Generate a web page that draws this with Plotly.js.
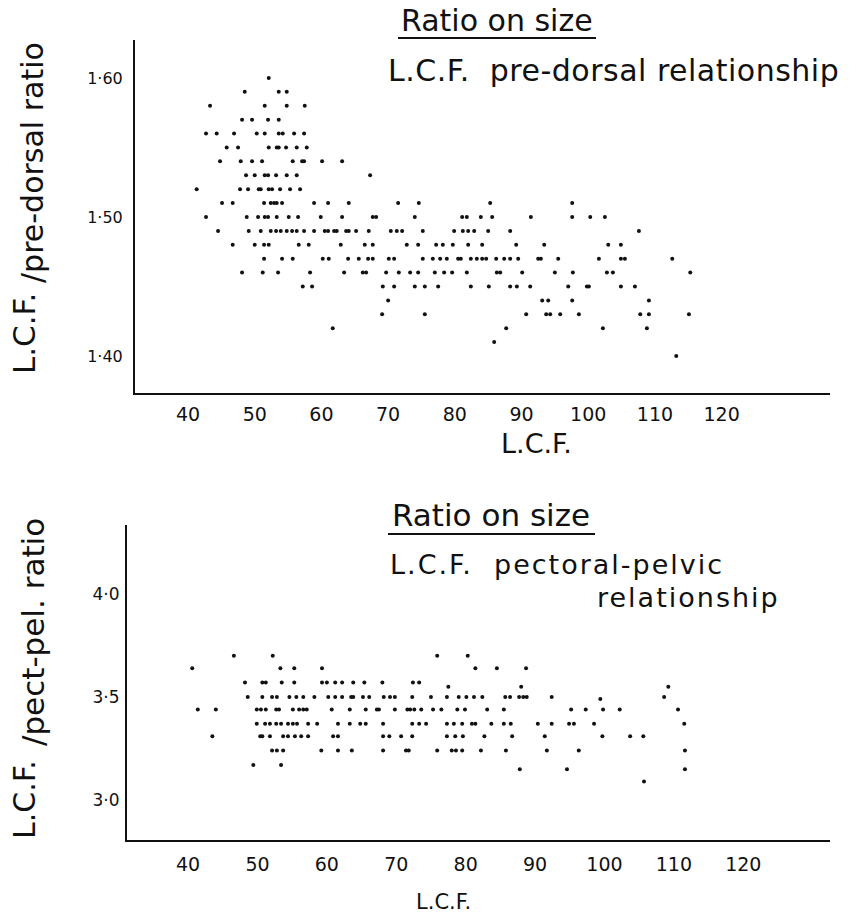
<!DOCTYPE html>
<html>
<head>
<meta charset="utf-8">
<script src="https://cdn.plot.ly/plotly-3.0.1.min.js"></script>
<style>
  html, body { margin: 0; padding: 0; background: #fff; }
  #chart { width: 864px; height: 917px; }
</style>
</head>
<body>
<div id="chart"></div>
<script>
// L.C.F. / pre-dorsal ratio, grouped by ratio level (one list of L.C.F. values per level)
const dorsalLevels = [1.60, 1.59, 1.58, 1.57, 1.56, 1.55, 1.54, 1.53, 1.52, 1.51, 1.50,
                      1.49, 1.48, 1.47, 1.46, 1.45, 1.44, 1.43, 1.42, 1.41, 1.40];
const dorsalLcf = [
  [52.1],
  [48.5, 53.6, 54.8],
  [43.3, 51.5, 54.8, 57.5],
  [48.1, 49.6, 52.0, 53.6],
  [42.7, 44.3, 46.9, 50.3, 51.5, 53.6, 54.2, 55.9, 57.4],
  [45.8, 47.5, 52.1, 53.3, 53.6, 54.7, 56.3, 57.8],
  [44.8, 47.9, 49.6, 51.1, 55.7, 57.1, 57.4, 60.1, 63.1],
  [48.7, 50.0, 51.5, 52.0, 53.2, 54.8, 56.3, 67.3],
  [41.3, 47.8, 49.0, 50.6, 50.9, 52.1, 52.6, 53.8, 55.3, 56.8],
  [45.1, 46.7, 51.4, 52.4, 52.9, 53.3, 54.1, 58.9, 61.0, 64.1, 71.5, 74.6, 85.3, 97.6],
  [42.7, 48.8, 50.5, 51.5, 52.0, 53.3, 55.1, 56.5, 59.9, 63.1, 67.7, 68.2, 74.0, 81.1,
   81.8, 83.9, 85.6, 91.4, 97.6, 100.3, 102.5],
  [44.5, 49.1, 50.9, 52.4, 53.2, 53.9, 54.8, 55.6, 56.3, 57.4, 58.9, 60.5, 61.0, 61.9,
   62.3, 63.7, 64.1, 65.2, 67.1, 70.4, 71.3, 72.1, 75.2, 79.9, 81.2, 82.0, 82.9, 85.0,
   88.3, 107.6],
  [46.7, 50.0, 51.4, 52.1, 56.6, 58.1, 62.9, 66.5, 67.7, 72.8, 74.5, 77.2, 78.2, 79.7,
   82.0, 84.1, 89.2, 93.4, 103.0, 104.9],
  [51.4, 54.1, 55.7, 60.2, 61.1, 64.0, 65.6, 67.0, 67.7, 70.1, 70.9, 75.2, 76.7, 77.8,
   78.8, 80.5, 80.9, 82.4, 83.3, 84.1, 84.7, 86.2, 87.4, 88.3, 89.5, 92.5, 92.9, 95.5,
   101.6, 104.9, 105.5, 112.6],
  [48.1, 51.2, 53.5, 58.3, 63.4, 66.2, 66.7, 69.7, 71.6, 73.3, 74.5, 77.0, 78.4, 79.6,
   81.8, 86.3, 86.8, 90.1, 95.0, 97.7, 102.8, 103.7, 115.3],
  [57.2, 58.6, 69.2, 70.9, 74.0, 75.5, 77.5, 82.4, 85.1, 88.3, 89.3, 91.3, 97.0, 99.8,
   100.1, 104.9, 107.0],
  [70.0, 93.1, 94.0, 97.6, 109.1],
  [69.1, 75.5, 90.7, 93.7, 94.3, 95.8, 98.6, 107.8, 109.1, 115.1],
  [61.7, 87.7, 102.2, 108.8],
  [85.9],
  [113.2]
];

// L.C.F. / pectoral-pelvic ratio, grouped the same way
const pelvicLevels = [3.70, 3.64, 3.57, 3.55, 3.50, 3.49, 3.44, 3.37, 3.31, 3.24, 3.17, 3.15, 3.09];
const pelvicLcf = [
  [46.6, 52.2, 75.9, 80.3],
  [40.6, 53.3, 55.3, 59.3, 81.4, 84.5, 88.7],
  [48.2, 50.7, 51.2, 53.5, 55.3, 59.3, 60.0, 61.2, 62.2, 63.8, 65.4, 68.0, 72.4, 73.3],
  [77.5, 88.0, 109.2],
  [48.6, 50.7, 52.1, 52.8, 54.6, 55.6, 56.6, 58.2, 60.2, 61.2, 62.2, 63.5, 63.8, 65.2,
   66.1, 68.2, 69.1, 69.8, 72.3, 75.0, 77.3, 79.0, 80.1, 81.2, 82.4, 85.7, 86.4, 87.7,
   88.3, 88.8, 92.4, 108.6],
  [99.4],
  [41.4, 44.0, 49.9, 50.5, 51.2, 52.7, 53.1, 55.1, 56.0, 56.6, 57.1, 60.7, 63.3, 65.6,
   67.2, 67.5, 69.8, 71.6, 72.0, 72.6, 73.6, 75.3, 76.5, 78.8, 79.9, 83.1, 85.5, 95.2,
   97.3, 99.8, 102.2, 110.6],
  [49.9, 51.1, 51.8, 52.7, 53.4, 54.4, 55.1, 55.7, 57.3, 58.6, 61.6, 63.3, 64.8, 65.6,
   68.1, 72.3, 73.3, 74.3, 77.3, 78.3, 79.5, 80.9, 81.4, 83.7, 85.5, 86.5, 90.4, 92.4,
   94.9, 95.6, 98.5, 111.5],
  [43.5, 50.4, 50.7, 51.8, 53.7, 54.4, 55.4, 56.3, 57.3, 60.9, 61.6, 68.1, 69.0, 70.7,
   72.3, 77.3, 78.5, 79.6, 82.7, 86.7, 91.4, 99.7, 103.7, 105.6],
  [52.1, 52.8, 53.7, 59.2, 61.6, 63.6, 68.1, 71.4, 71.8, 75.9, 78.0, 78.6, 79.5, 82.2,
   85.8, 91.7, 96.3, 111.6],
  [49.4, 53.4],
  [87.8, 94.6, 111.6],
  [105.7]
];

// Axis ticks
const lcfTicks = [40, 50, 60, 70, 80, 90, 100, 110, 120];
const dorsalTicks = [1.40, 1.50, 1.60];
const dorsalTickText = ['1·40', '1·50', '1·60'];
const pelvicTicks = [3.0, 3.5, 4.0];
const pelvicTickText = ['3·0', '3·5', '4·0'];

function flatten(levels, groups) {
  const x = [], y = [];
  groups.forEach((g, i) => g.forEach(v => { x.push(v); y.push(levels[i]); }));
  return { x, y };
}

const dorsal = flatten(dorsalLevels, dorsalLcf);
const pelvic = flatten(pelvicLevels, pelvicLcf);

const W = 864, H = 917;
const px = v => v / W;          // pixel -> paper x
const py = v => 1 - v / H;      // pixel -> paper y

const FONT = 'DejaVu Sans, sans-serif';
const INK = '#111';
const dot = { color: INK, size: 4, symbol: 'circle' };

const traces = [
  { x: dorsal.x, y: dorsal.y, type: 'scatter', mode: 'markers', marker: dot,
    xaxis: 'x', yaxis: 'y', hoverinfo: 'x+y' },
  { x: pelvic.x, y: pelvic.y, type: 'scatter', mode: 'markers', marker: dot,
    xaxis: 'x2', yaxis: 'y2', hoverinfo: 'x+y' }
];

const baseAxis = {
  showline: true, linecolor: INK, linewidth: 2,
  showgrid: false, zeroline: false, mirror: false,
  ticks: 'outside', tickcolor: 'rgba(0,0,0,0)',
  tickfont: { family: FONT, size: 19, color: INK }
};

// widen lettering the way the hand-lettered captions are spaced
const spaced = (t, sp) => `<span style="letter-spacing:${sp}px">${t}</span>`;

function note(text, x, y, size, opts) {
  return Object.assign({
    text, x: px(x), y: py(y), xref: 'paper', yref: 'paper',
    xanchor: 'center', yanchor: 'middle', showarrow: false,
    font: { family: FONT, size, color: INK }
  }, opts || {});
}

const layout = {
  width: W, height: H,
  margin: { l: 0, r: 0, t: 0, b: 0 },
  paper_bgcolor: '#fff', plot_bgcolor: '#fff',
  showlegend: false,
  xaxis: Object.assign({}, baseAxis, {
    domain: [px(135), px(830)], range: [32.05, 136.25],
    tickvals: lcfTicks, ticklen: 3, anchor: 'y'
  }),
  yaxis: Object.assign({}, baseAxis, {
    domain: [py(393), py(40)], range: [1.3734, 1.6273],
    tickvals: dorsalTicks, ticktext: dorsalTickText, ticklen: 7, anchor: 'x',
    tickfont: { family: FONT, size: 16, color: INK }
  }),
  xaxis2: Object.assign({}, baseAxis, {
    domain: [px(127), px(830)], range: [31.2, 132.5],
    tickvals: lcfTicks, ticklen: 6, anchor: 'y2'
  }),
  yaxis2: Object.assign({}, baseAxis, {
    domain: [py(840), py(525)], range: [2.806, 4.335],
    tickvals: pelvicTicks, ticktext: pelvicTickText, ticklen: 2, anchor: 'x2',
    tickfont: { family: FONT, size: 17, color: INK }
  }),
  shapes: [
    { type: 'line', xref: 'paper', yref: 'paper', x0: px(398), x1: px(596), y0: py(38), y1: py(38),
      line: { color: INK, width: 2 } },
    { type: 'line', xref: 'paper', yref: 'paper', x0: px(388), x1: px(595), y0: py(534), y1: py(534),
      line: { color: INK, width: 2 } }
  ],
  annotations: [
    note('Ratio on size', 497, 20, 30),
    note(spaced('L.C.F.  pre-dorsal relationship', 0.5), 386, 70, 30, { xanchor: 'left' }),
    note('L.C.F.', 536, 443, 27),
    note('L.C.F.', 24, 334, 31, { textangle: -90 }),
    note('/pre-dorsal ratio', 33, 163, 30, { textangle: -90 }),

    note('Ratio on size', 491, 515, 31),
    note(spaced('L.C.F.  pectoral-pelvic', 2), 388, 564, 27, { xanchor: 'left' }),
    note(spaced('relationship', 2), 782, 597, 27, { xanchor: 'right' }),
    note('L.C.F.', 443, 902, 21),
    note('L.C.F.', 24, 800, 30, { textangle: -90 }),
    note('/pect-pel. ratio', 33, 632, 31, { textangle: -90 })
  ]
};

Plotly.newPlot('chart', traces, layout, { staticPlot: true, displayModeBar: false });
</script>
</body>
</html>
